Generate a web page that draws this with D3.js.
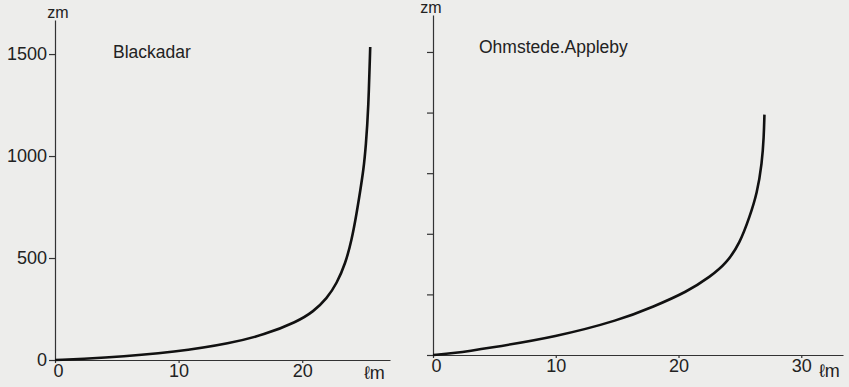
<!DOCTYPE html>
<html>
<head>
<meta charset="utf-8">
<script src="https://cdn.jsdelivr.net/npm/d3@7"></script>
<style>
  body { margin: 0; background: #ededeb; }
  svg { display: block; }
  text { font-family: "Liberation Sans", Arial, sans-serif; fill: #222; }
</style>
</head>
<body>
<div id="chart"></div>
<script>
// Blackadar mixing length profile (l in m, z in m)
const blackadarL = [0, 3.6, 10, 14.2, 16.9, 19.6, 20.9, 22.0, 22.8, 23.5, 24.0, 24.4, 24.7, 24.95, 25.15, 25.35, 25.5];
const blackadarZ = [0, 8, 40, 82, 123, 188, 237, 302, 376, 474, 588, 719, 833, 930, 1050, 1230, 1535];

// Ohmstede, Appleby profile
const ohmstedeL = [0, 1.65, 4.4, 10.05, 15.2, 17.95, 20.7, 22.6, 23.9, 25.0, 25.8, 26.4, 26.8, 26.95, 27.0];
const ohmstedeZ = [0, 8, 33, 90, 173, 239, 313, 388, 454, 553, 685, 800, 949, 1080, 1190];

const leftXTicks = [0, 10, 20];
const leftYTicks = [0, 500, 1000, 1500];
const rightXTicks = [0, 10, 20, 30];
const rightYTicks = [0, 300, 600, 900, 1200, 1500];

const width = 849, height = 387;

const svg = d3.select("#chart")
    .append("svg")
    .attr("width", width)
    .attr("height", height);

function panel(opts) {
    const x = d3.scaleLinear().domain(opts.xDomain).range(opts.xRange);
    const y = d3.scaleLinear().domain(opts.yDomain).range(opts.yRange);
    const g = svg.append("g");

    const xAxis = g.append("g")
        .attr("transform", `translate(0,${opts.yRange[0]})`)
        .call(d3.axisBottom(x).tickValues(opts.xTicks).tickSize(3).tickSizeOuter(0).tickPadding(1));

    const yAxis = g.append("g")
        .attr("transform", `translate(${opts.xRange[0]},0)`)
        .call(d3.axisLeft(y).tickValues(opts.yTicks).tickSize(6).tickSizeOuter(0).tickPadding(2)
            .tickFormat(opts.yLabels ? d3.format("d") : () => ""));

    [xAxis, yAxis].forEach(a => {
        a.select(".domain").attr("stroke", "#333").attr("stroke-width", 1.2);
        a.selectAll(".tick line").attr("stroke", "#333").attr("stroke-width", 1.2);
        a.selectAll(".tick text").style("font-size", "18px").attr("fill", "#222");
    });
    // first label on x sits just right of the origin
    xAxis.selectAll(".tick text").filter(d => d === 0).attr("dx", 3);

    // smoothed curve through the read-off points
    const line = d3.line()
        .x(d => x(d[0]))
        .y(d => y(d[1]))
        .curve(d3.curveBasis);

    g.append("path")
        .datum(opts.l.map((v, i) => [v, opts.z[i]]))
        .attr("d", line)
        .attr("fill", "none")
        .attr("stroke", "#111")
        .attr("stroke-width", 2.6);

    g.append("text")
        .attr("x", opts.zmPos[0])
        .attr("y", opts.zmPos[1])
        .attr("text-anchor", "middle")
        .style("font-size", "16px")
        .text("zm");

    g.append("text")
        .attr("x", opts.lmPos[0])
        .attr("y", opts.lmPos[1])
        .style("font-size", "18px")
        .text("ℓm");

    g.append("text")
        .attr("x", opts.titlePos[0])
        .attr("y", opts.titlePos[1])
        .style("font-size", "17.5px")
        .text(opts.title);
}

panel({
    xDomain: [0, 27.1], xRange: [55, 390],
    yDomain: [0, 1667], yRange: [360, 20],
    xTicks: leftXTicks, yTicks: leftYTicks, yLabels: true,
    l: blackadarL, z: blackadarZ,
    zmPos: [58, 18], lmPos: [364, 379],
    titlePos: [113, 58], title: "Blackadar"
});

panel({
    xDomain: [0, 33.4], xRange: [433, 843],
    yDomain: [0, 1683], yRange: [355, 15],
    xTicks: rightXTicks, yTicks: rightYTicks, yLabels: false,
    l: ohmstedeL, z: ohmstedeZ,
    zmPos: [431, 13], lmPos: [819, 377],
    titlePos: [479, 53], title: "Ohmstede.Appleby"
});
</script>
</body>
</html>
